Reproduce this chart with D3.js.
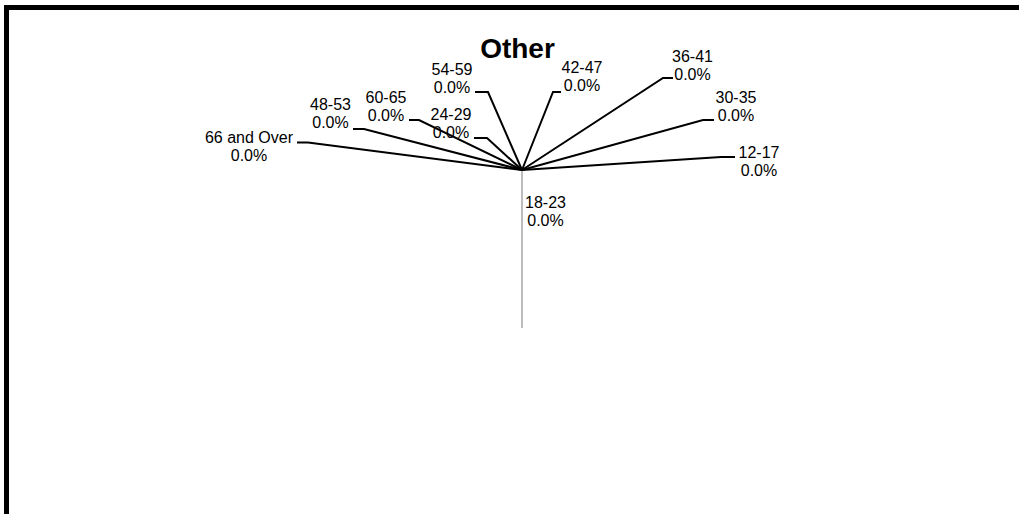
<!DOCTYPE html>
<html>
<head>
<meta charset="utf-8">
<script src="https://cdn.jsdelivr.net/npm/d3@7"></script>
<style>
  html, body { margin: 0; padding: 0; background: #fff; overflow: hidden; }
  svg { display: block; }
  text { font-family: Arial, "Liberation Sans", sans-serif; fill: #000; }
</style>
</head>
<body>
<svg id="chart" width="1019" height="514"></svg>
<script>
// Age groups and their counts in the "Other" group
const categories = ["12-17", "18-23", "24-29", "30-35", "36-41", "42-47", "48-53", "54-59", "60-65", "66 and Over"];
const values = [0, 0, 0, 0, 0, 0, 0, 0, 0, 0];
const chartTitle = "Other";

// Label placement relative to the pie centre: leader elbow, leader end, label centre (first baseline)
const labelElbow = [[199, -13], null, [-35, -32], [181, -50], [141, -92], [31, -78], [-158, -41], [-34, -78], [-103, -50], [-214, -27.5]];
const labelEnd   = [[213, -13], null, [-48, -32], [192, -50], [151, -92], [39, -78], [-169, -41], [-47, -78], [-113, -50], [-225, -27.5]];
const labelText  = [[237, -12], [23.5, 37.5], [-71, -50], [214, -67.5], [170.5, -108.5], [60, -96.7], [-191.5, -60], [-70, -95], [-136, -67.5], [-273, -27]];

const svg = d3.select("#chart");
const cx = 522, cy = 170, radius = 158;

// outer frame
svg.append("rect")
  .attr("x", 6.5).attr("y", 7.5)
  .attr("width", 1040).attr("height", 540)
  .attr("fill", "none").attr("stroke", "#000").attr("stroke-width", 5);

svg.append("text")
  .attr("x", 517.5).attr("y", 57.5)
  .attr("text-anchor", "middle")
  .style("font-weight", "bold").style("font-size", "28px")
  .text(chartTitle);

const total = d3.sum(values);
const pct = d3.format(".1%");
const data = categories.map((c, i) => ({ category: c, value: values[i], i }));

const pie = d3.pie().value(d => d.value).sort(null).startAngle(Math.PI).endAngle(3 * Math.PI);
const arc = d3.arc().innerRadius(0).outerRadius(radius);

const g = svg.append("g").attr("transform", `translate(${cx},${cy})`);

// slices (all empty, so they collapse onto the starting radius)
g.selectAll("path.slice")
  .data(pie(data))
  .join("path")
  .attr("class", "slice")
  .attr("d", arc)
  .attr("fill", "none")
  .attr("stroke", "#bcbcbc")
  .attr("stroke-width", 2);

// leader lines
const line = d3.line();
g.selectAll("path.leader")
  .data(data.filter(d => labelElbow[d.i]))
  .join("path")
  .attr("class", "leader")
  .attr("d", d => line([[0, 0], labelElbow[d.i], labelEnd[d.i]]))
  .attr("fill", "none")
  .attr("stroke", "#000")
  .attr("stroke-width", 2)
  .attr("stroke-linejoin", "miter");

// labels: category name and percentage share
const labels = g.selectAll("text.label")
  .data(data)
  .join("text")
  .attr("class", "label")
  .attr("text-anchor", "middle")
  .style("font-size", "16px")
  .attr("transform", d => `translate(${labelText[d.i][0]},${labelText[d.i][1]})`);

labels.append("tspan").attr("x", 0).attr("y", 0).text(d => d.category);
labels.append("tspan").attr("x", 0).attr("y", 18).text(d => pct(total ? d.value / total : 0));
</script>
</body>
</html>
